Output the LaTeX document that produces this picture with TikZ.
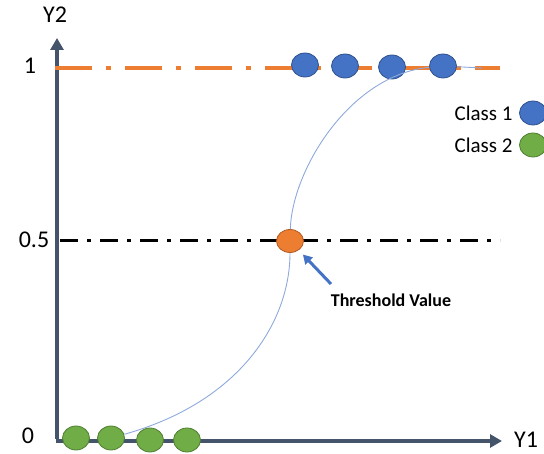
\documentclass[tikz,border=0pt]{standalone}
\usepackage{fontspec}
\setmainfont{Carlito}
\usepackage{tikz}
\usetikzlibrary{arrows.meta,shapes.geometric,positioning}

\definecolor{axisgray}{HTML}{44546A}
\definecolor{orng}{HTML}{ED7D31}
\definecolor{orngdark}{HTML}{AE5A21}
\definecolor{blu}{HTML}{4472C4}
\definecolor{bludark}{HTML}{2F528F}
\definecolor{grn}{HTML}{70AD47}
\definecolor{grndark}{HTML}{507E32}
\definecolor{curveblue}{HTML}{8EA9DB}

\begin{document}
\begin{tikzpicture}[x=1pt,y=-1pt,>={Triangle[width=13pt,length=12pt]}]
	\tikzstyle{every node}=[font=\fontsize{24}{26}\selectfont]
	\tikzstyle{axis}=[draw=axisgray,line width=4.5pt,->]
	\tikzstyle{dot}=[ellipse,minimum width=27pt,minimum height=24pt,inner sep=0pt,line width=0.8pt]
	\tikzstyle{class1}=[dot,fill=blu,draw=bludark]
	\tikzstyle{class2}=[dot,fill=grn,draw=grndark]
	\tikzstyle{legend}=[font=\fontsize{21}{23}\selectfont,anchor=east]

	\useasboundingbox (0,0) rectangle (544,454);

	% axes
	\coordinate (O) at (57,441);
	\coordinate (ytop) at (57,38);
	\coordinate (xend) at (502,441);
	\draw[axis] ([yshift=2pt]O) -- (ytop);
	\draw[axis] ([xshift=-1pt]O) -- (xend);
	\node (ylab) at (55,15) {Y2};
	\node (xlab) at (526,440) {Y1};
	\node (tick1) at (30,66) {1};
	\node (tickhalf) at (34,240) {0.5};
	\node (tick0) at (28,436) {0};

	% levels
	\coordinate (onel) at (55,68);
	\coordinate (oner) at (500,68);
	\coordinate (halfl) at (60,241);
	\coordinate (halfr) at (500,241);
	\draw[orng,line width=4.5pt,dash pattern=on 37pt off 14pt on 5pt off 14pt] (onel) -- (oner);
	\draw[black,line width=3pt,dash pattern=on 18pt off 9pt on 4pt off 9pt] (halfl) -- (halfr);

	% data points
	\node[class1] (b1) at (305,65) {};
	\node[class1] (b2) at (345,66) {};
	\node[class1] (b3) at (392,67) {};
	\node[class1] (b4) at (443,66) {};
	\node[class2] (g1) at (76,438) {};
	\node[class2] (g2) at (111,438) {};
	\node[class2] (g3) at (150,440) {};
	\node[class2] (g4) at (187,440) {};
	\node[dot,fill=orng,draw=orngdark,minimum width=27pt,minimum height=23pt] (thr) at (290,241) {};

	% sigmoid
	\coordinate (tail) at (482,68);
	\draw[curveblue,line width=0.9pt] (g2) .. controls (240,402) and (290,322) .. (thr)
		(thr) .. controls (292,170) and (350,75) .. (b4)
		(b4) -- (tail);

	% threshold label
	\node[font=\bfseries\fontsize{18}{20}\selectfont] (tv) at (391,300) {Threshold Value};
	\coordinate (tvtail) at (331,284);
	\draw[blu,line width=3pt,-{Triangle[width=10pt,length=9pt]},shorten >=6pt] (tvtail) -- (thr);

	% legend
	\node[class1] (l1) at (533,113) {};
	\node[class2] (l2) at (533,145) {};
	\node[legend] (c1) [left=3pt of l1] {Class 1};
	\node[legend] (c2) [left=3pt of l2] {Class 2};
\end{tikzpicture}
\end{document}
